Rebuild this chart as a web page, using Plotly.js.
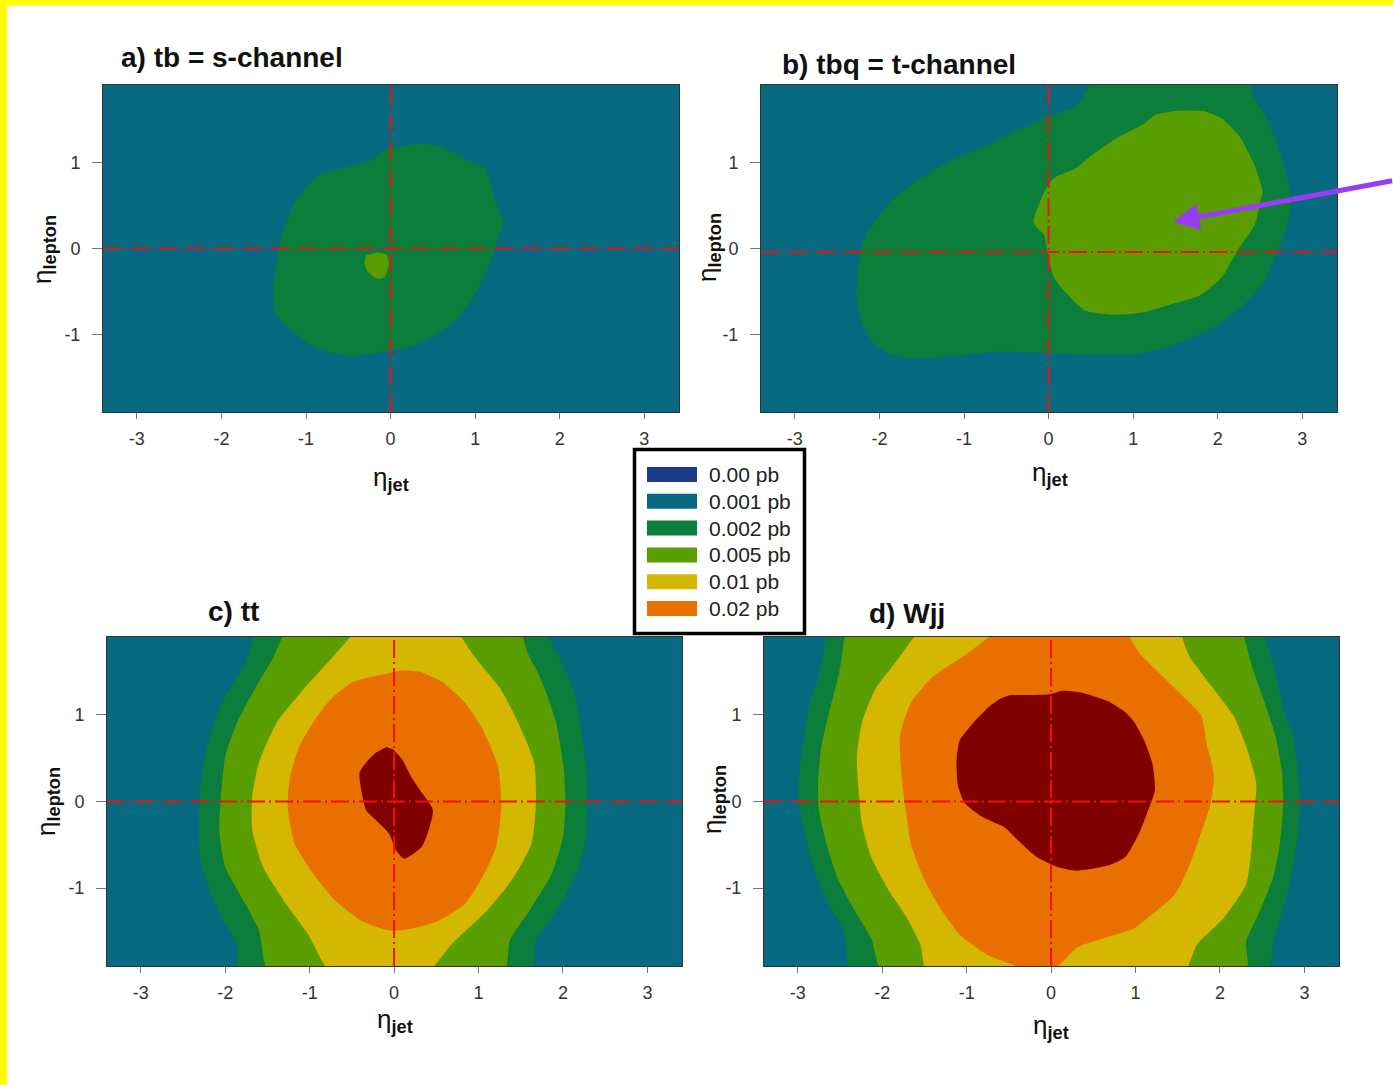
<!DOCTYPE html>
<html><head><meta charset="utf-8">
<script src="https://cdn.plot.ly/plotly-3.0.1.min.js"></script>
<style>html,body{margin:0;padding:0;background:#fff}#chart{width:1393px;height:1085px}</style>
</head><body><div id="chart"></div><script>
// ---------- data ----------
const levelLabels = ['0.00 pb','0.001 pb','0.002 pb','0.005 pb','0.01 pb','0.02 pb'];
const levelColors = ['#1C3B8B','#076A80','#0A7E3A','#5A9D00','#D3B700','#E86F00'];
const peakColor = '#800000';

const xTickVals = [-3,-2,-1,0,1,2,3];
const xTickText = ['-3','-2','-1','0','1','2','3'];
const yTickVals = [-1,0,1];
const yTickText = ['-1','0','1'];

const panelTitles = ['a) tb = s-channel','b) tbq = t-channel','c) tt','d) Wjj'];
const xAxisLabel = 'η<sub><b>jet</b></sub>';
const yAxisLabel = 'η<sub><b>lepton</b></sub>';

// a) tb : 0.002 and 0.005 contours
const a002x = [0.32,-0.08,-0.24,-0.85,-1.14,-1.30,-1.38,-1.36,-1.14,-0.82,-0.48,0.03,0.24,0.66,0.93,1.14,1.25,1.33,1.22,1.12,0.93,0.56];
const a002y = [1.22,1.14,1.02,0.85,0.52,0.10,-0.41,-0.75,-0.98,-1.18,-1.25,-1.18,-1.14,-0.93,-0.64,-0.25,0.06,0.31,0.60,0.93,1.02,1.20];
const a005x = [-0.29,-0.16,-0.05,-0.02,-0.07,-0.16,-0.27,-0.31];
const a005y = [-0.08,-0.05,-0.07,-0.17,-0.33,-0.35,-0.27,-0.17];

// b) tbq
const b002x = [0.54,0.38,0.30,-0.01,-0.36,-0.71,-1.01,-1.28,-1.58,-1.87,-2.02,-2.15,-2.23,-2.27,-2.22,-2.06,-1.80,-1.58,-1.15,-0.58,0.0,0.52,1.08,1.48,1.92,2.26,2.51,2.66,2.79,2.86,2.83,2.70,2.57,2.42,2.37];
const b002y = [2.0,1.72,1.64,1.53,1.38,1.21,1.09,0.96,0.77,0.55,0.36,0.17,-0.06,-0.52,-0.82,-1.12,-1.25,-1.28,-1.25,-1.20,-1.22,-1.23,-1.22,-1.12,-0.93,-0.70,-0.44,-0.14,0.17,0.47,0.81,1.23,1.53,1.76,2.0];
const b005x = [1.78,1.52,1.26,1.13,0.78,0.52,0.30,0.08,-0.01,-0.10,-0.18,-0.05,-0.01,0.06,0.21,0.43,0.78,1.13,1.48,1.78,2.05,2.26,2.44,2.51,2.53,2.44,2.26,2.05,1.83];
const b005y = [1.60,1.60,1.55,1.45,1.27,1.09,0.92,0.83,0.73,0.55,0.30,0.15,-0.06,-0.33,-0.52,-0.72,-0.77,-0.74,-0.64,-0.55,-0.33,0.02,0.28,0.58,0.66,0.96,1.30,1.51,1.60];

// c) tt
const c002x = [-1.63,-1.78,-2.02,-2.16,-2.24,-2.30,-2.31,-2.30,-2.18,-2.02,-1.86,-1.81,1.60,1.68,1.95,2.16,2.27,2.29,2.28,2.21,2.16,1.95,1.76];
const c002y = [2.0,1.57,1.18,0.83,0.52,0.14,-0.17,-0.64,-1.03,-1.38,-1.65,-2.0,-2.0,-1.61,-1.22,-0.83,-0.45,-0.02,0.37,0.83,1.18,1.69,2.0];
const c005x = [-1.28,-1.44,-1.65,-1.86,-2.00,-2.05,-2.07,-2.00,-1.81,-1.60,-1.47,1.29,1.37,1.63,1.87,2.00,2.03,2.01,1.92,1.74,1.58,1.50];
const c005y = [2.0,1.65,1.30,0.91,0.52,0.06,-0.33,-0.76,-1.10,-1.49,-2.0,-2.0,-1.61,-1.22,-0.83,-0.41,-0.02,0.37,0.91,1.41,1.72,2.0];
const c01x = [-0.43,-0.78,-1.07,-1.39,-1.60,-1.68,-1.68,-1.55,-1.28,-1.02,-0.73,0.36,0.68,1.10,1.42,1.63,1.68,1.66,1.47,1.26,0.94,0.73];
const c01y = [2.0,1.61,1.30,0.91,0.45,0.06,-0.33,-0.76,-1.18,-1.53,-2.0,-2.0,-1.65,-1.26,-0.87,-0.48,-0.02,0.45,0.91,1.30,1.69,2.0];
const c02x = [0.10,-0.12,-0.49,-0.75,-0.96,-1.12,-1.23,-1.26,-1.18,-0.96,-0.70,-0.38,-0.06,0.20,0.52,0.84,1.05,1.21,1.27,1.23,1.05,0.84,0.57,0.31];
const c02y = [1.52,1.47,1.38,1.18,0.91,0.64,0.29,-0.06,-0.48,-0.83,-1.14,-1.38,-1.49,-1.47,-1.38,-1.18,-0.87,-0.52,-0.06,0.41,0.83,1.14,1.38,1.50];
const cPkx = [-0.09,-0.22,-0.33,-0.41,-0.39,-0.33,-0.22,-0.06,0.02,0.12,0.33,0.41,0.46,0.33,0.20,0.10,-0.01];
const cPky = [0.63,0.56,0.45,0.33,0.14,-0.10,-0.21,-0.37,-0.56,-0.66,-0.52,-0.33,-0.10,0.10,0.29,0.48,0.60];

// d) Wjj
const d002x = [-2.66,-2.74,-2.87,-2.93,-2.99,-2.99,-2.93,-2.85,-2.74,-2.61,-2.45,-2.35,2.55,2.63,2.74,2.84,2.92,2.95,2.92,2.87,2.74,2.66,2.50];
const d002y = [2.0,1.49,1.10,0.71,0.29,-0.02,-0.33,-0.64,-0.96,-1.23,-1.50,-2.0,-2.0,-1.62,-1.27,-0.88,-0.41,-0.02,0.37,0.75,1.10,1.49,2.0];
const d005x = [-2.43,-2.51,-2.61,-2.72,-2.76,-2.75,-2.66,-2.53,-2.32,-2.13,-1.98,2.31,2.31,2.47,2.63,2.71,2.75,2.73,2.66,2.53,2.39,2.26];
const d005y = [2.0,1.49,1.10,0.64,0.21,-0.10,-0.49,-0.88,-1.27,-1.58,-2.0,-2.0,-1.62,-1.27,-0.88,-0.49,-0.02,0.37,0.75,1.14,1.53,2.0];
const d01x = [-1.55,-1.84,-2.08,-2.24,-2.30,-2.28,-2.24,-2.13,-1.92,-1.71,-1.55,-1.45,1.55,1.73,2.05,2.31,2.37,2.41,2.43,2.31,2.16,1.84,1.63,1.52];
const d01y = [2.0,1.61,1.30,0.91,0.52,0.13,-0.26,-0.64,-1.03,-1.34,-1.65,-2.0,-2.0,-1.65,-1.34,-0.96,-0.57,-0.10,0.21,0.64,0.99,1.41,1.69,2.0];
const d02x = [-0.60,-1.02,-1.39,-1.66,-1.79,-1.77,-1.72,-1.66,-1.53,-1.34,-1.08,-0.76,-0.44,-0.20,-0.07,0.14,0.30,0.62,0.99,1.20,1.47,1.63,1.76,1.89,1.93,1.84,1.78,1.60,1.36,1.04,0.88];
const d02y = [2.0,1.69,1.45,1.14,0.75,0.29,-0.10,-0.49,-0.84,-1.19,-1.54,-1.77,-1.89,-2.0,-2.0,-1.85,-1.69,-1.58,-1.46,-1.30,-1.07,-0.76,-0.41,-0.02,0.29,0.68,0.99,1.18,1.41,1.72,2.0];
const dPkx = [-0.49,-0.02,0.14,0.35,0.67,0.88,0.99,1.10,1.20,1.23,1.15,1.04,0.88,0.67,0.30,0.09,-0.17,-0.39,-0.55,-0.81,-1.02,-1.10,-1.12,-1.08,-0.92,-0.73,-0.60];
const dPky = [1.23,1.24,1.28,1.26,1.16,1.03,0.91,0.71,0.44,0.13,-0.10,-0.37,-0.64,-0.74,-0.80,-0.76,-0.64,-0.45,-0.30,-0.18,-0.02,0.17,0.48,0.71,0.91,1.10,1.19];

// reference cross-hair positions and the arrow in panel b (data units)
const crossX = [0, 0, 0, 0];
const crossY = [0, -0.04, 0, 0];
const arrowTip = [1.47, 0.31];
const arrowTail = [4.08, 0.79];

// ---------- layout (pixel geometry of the page) ----------
const W = 1393, H = 1085;
const px = v => v / W, py = v => 1 - v / H;
const panels = [
  {dx:[103,679], dy:[85,412],  title:[119,58],  xl:[391,478],  yl:[43,250],
   regions:[[a002x,a002y,2],[a005x,a005y,3]]},
  {dx:[761,1337], dy:[85,412], title:[780,64],  xl:[1050,474], yl:[709,248],
   regions:[[b002x,b002y,2],[b005x,b005y,3]]},
  {dx:[107,682], dy:[637,966], title:[206,611], xl:[395,1021], yl:[47,802],
   regions:[[c002x,c002y,2],[c005x,c005y,3],[c01x,c01y,4],[c02x,c02y,5],[cPkx,cPky,6]]},
  {dx:[764,1339], dy:[637,966],title:[867,613], xl:[1051,1026],yl:[713,800],
   regions:[[d002x,d002y,2],[d005x,d005y,3],[d01x,d01y,4],[d02x,d02y,5],[dPkx,dPky,6]]}
];
const xRange = [-3.4, 3.41], yRange = [-1.9, 1.9];
const colorOf = l => l === 6 ? peakColor : levelColors[l];

const traces = [], shapes = [], annotations = [];
const layout = {
  width: W, height: H, margin:{l:0,r:0,t:0,b:0},
  paper_bgcolor:'#ffffff', plot_bgcolor: levelColors[1],
  font:{family:'Liberation Sans, Arial, sans-serif', color:'#222'},
  showlegend:false
};

panels.forEach((p, i) => {
  const s = i === 0 ? '' : String(i + 1);
  p.regions.forEach(([x, y, lev]) => {
    traces.push({type:'scatter', mode:'lines', x, y, fill:'toself',
      fillcolor: colorOf(lev), line:{width:0, color: colorOf(lev), shape:'spline', smoothing:0.6},
      xaxis:'x'+s, yaxis:'y'+s, hoverinfo:'skip'});
  });
  layout['xaxis'+s] = {domain:[px(p.dx[0]), px(p.dx[1])], range:xRange, anchor:'y'+s,
    tickmode:'array', tickvals:xTickVals, ticktext:xTickText, ticks:'outside', ticklen:6,
    tickcolor:'#777', tickwidth:1, ticklabelstandoff:4,
    showgrid:false, zeroline:false, showline:true, mirror:true, linecolor:'#333', linewidth:1,
    tickfont:{size:18, color:'#333'}, fixedrange:true};
  layout['yaxis'+s] = {domain:[py(p.dy[1]), py(p.dy[0])], range:yRange, anchor:'x'+s,
    tickmode:'array', tickvals:yTickVals, ticktext:yTickText, ticks:'outside', ticklen:10,
    tickcolor:'#777', tickwidth:1, ticklabelstandoff:8,
    showgrid:false, zeroline:false, showline:true, mirror:true, linecolor:'#333', linewidth:1,
    tickfont:{size:18, color:'#333'}, fixedrange:true};
  const dash = '18px,4px,2px,4px';
  shapes.push({type:'line', xref:'x'+s, yref:'y'+s+' domain', x0:crossX[i], x1:crossX[i], y0:0, y1:1,
    line:{color:'#EE1111', width:2, dash}});
  shapes.push({type:'line', xref:'x'+s+' domain', yref:'y'+s, x0:0, x1:1, y0:crossY[i], y1:crossY[i],
    line:{color:'#EE1111', width:2, dash}});
  annotations.push({xref:'paper', yref:'paper', x:px(p.title[0]), y:py(p.title[1]),
    xanchor:'left', yanchor:'middle', showarrow:false, text:'<b>'+panelTitles[i]+'</b>',
    font:{size:28, color:'#111'}});
  annotations.push({xref:'paper', yref:'paper', x:px(p.xl[0]), y:py(p.xl[1]),
    xanchor:'center', yanchor:'middle', showarrow:false, text:xAxisLabel,
    font:{size:26, color:'#111'}});
  annotations.push({xref:'paper', yref:'paper', x:px(p.yl[0]), y:py(p.yl[1]),
    xanchor:'center', yanchor:'middle', showarrow:false, textangle:-90,
    text:yAxisLabel, font:{size:26, color:'#111'}});
});

// arrow in panel b
annotations.push({xref:'x2', yref:'y2', axref:'x2', ayref:'y2', x:arrowTip[0], y:arrowTip[1],
  ax:arrowTail[0], ay:arrowTail[1], text:'', showarrow:true, arrowhead:2, arrowsize:1.05,
  arrowwidth:5, arrowcolor:'#9A3BFA', standoff:0});

// legend box built from the level arrays
shapes.push({type:'rect', xref:'paper', yref:'paper', x0:px(634.5), x1:px(804.5), y0:py(633.5), y1:py(449.5),
  line:{color:'#000', width:3.5}, fillcolor:'#fff', layer:'above'});
levelLabels.forEach((lab, i) => {
  const cy = 474.5 + i * 26.8;
  shapes.push({type:'rect', xref:'paper', yref:'paper', x0:px(647), x1:px(697), y0:py(cy+7.5), y1:py(cy-7.5),
    line:{width:0}, fillcolor:levelColors[i], layer:'above'});
  annotations.push({xref:'paper', yref:'paper', x:px(707), y:py(cy), xanchor:'left', yanchor:'middle',
    showarrow:false, text:lab, font:{size:21, color:'#222'}});
});

// yellow frame
shapes.push({type:'rect', xref:'paper', yref:'paper', x0:0, x1:px(7), y0:0, y1:1, fillcolor:'#FFFF00', line:{width:0}, layer:'above'});
shapes.push({type:'rect', xref:'paper', yref:'paper', x0:0, x1:1, y0:py(5.5), y1:1, fillcolor:'#FFFF00', line:{width:0}, layer:'above'});

layout.shapes = shapes;
layout.annotations = annotations;
Plotly.newPlot('chart', traces, layout, {staticPlot:true});
</script></body></html>
